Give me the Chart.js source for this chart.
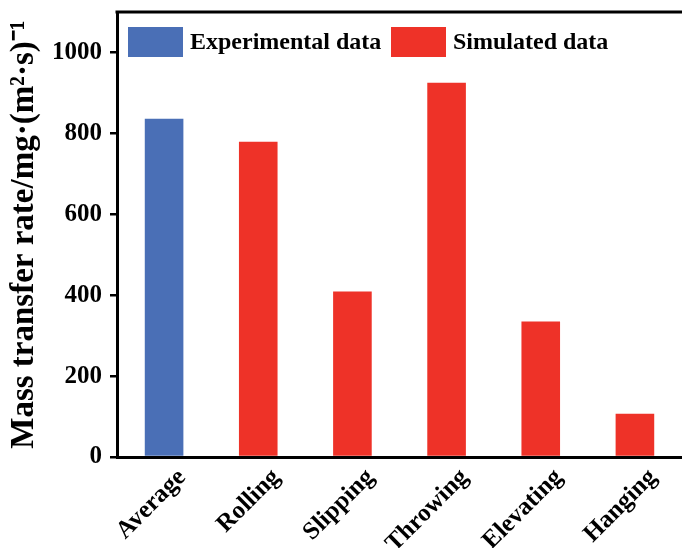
<!DOCTYPE html>
<html>
<head>
<meta charset="utf-8">
<script src="https://cdn.jsdelivr.net/npm/chart.js@4"></script>
<style>
  html, body { margin: 0; padding: 0; background: #fff; overflow: hidden; }
  #wrap { width: 682px; height: 548px; }
</style>
</head>
<body>
<div id="wrap"><canvas id="massChart" width="682" height="548"></canvas></div>
<script>
var categories = ['Average', 'Rolling', 'Slipping', 'Throwing', 'Elevating', 'Hanging'];
var experimentalValues = [836, null, null, null, null, null];
var simulatedValues = [null, 779, 409, 925, 335, 107];
var yTicks = [0, 200, 400, 600, 800, 1000];

var serif = "'Liberation Serif', 'Times New Roman', serif";
var blue = '#4A6FB6';
var red = '#EE3228';

// legend drawn inside the plot area, plus the top frame line
var frameAndLegend = {
    id: 'frameAndLegend',
    afterDraw: function (chart) {
        var ctx = chart.ctx;
        var area = chart.chartArea;
        ctx.save();
        ctx.strokeStyle = '#000';
        ctx.lineWidth = 3;
        ctx.beginPath();
        ctx.moveTo(area.left - 1.5, area.top);
        ctx.lineTo(chart.width, area.top);
        ctx.stroke();

        var items = [
            { text: chart.data.datasets[0].label, color: chart.data.datasets[0].backgroundColor, x: 128 },
            { text: chart.data.datasets[1].label, color: chart.data.datasets[1].backgroundColor, x: 391 }
        ];
        ctx.font = 'bold 24px ' + serif;
        ctx.textBaseline = 'middle';
        items.forEach(function (it) {
            ctx.fillStyle = it.color;
            ctx.fillRect(it.x, 27, 55, 30);
            ctx.fillStyle = '#000';
            ctx.fillText(it.text, it.x + 62, 43);
        });
        ctx.restore();
    }
};

var ctx = document.getElementById('massChart').getContext('2d');
var massChart = new Chart(ctx, {
    type: 'bar',
    data: {
        labels: categories,
        datasets: [{
            label: 'Experimental data',
            data: experimentalValues,
            backgroundColor: blue,
            grouped: false,
            categoryPercentage: 1,
            barPercentage: 0.41
        }, {
            label: 'Simulated data',
            data: simulatedValues,
            backgroundColor: red,
            grouped: false,
            categoryPercentage: 1,
            barPercentage: 0.41
        }]
    },
    options: {
        responsive: false,
        animation: false,
        layout: { padding: { top: 12, right: 0, left: 0, bottom: 0 } },
        plugins: {
            legend: { display: false },
            tooltip: { enabled: false }
        },
        scales: {
            x: {
                offset: true,
                grid: { display: false, drawTicks: false },
                border: { color: '#000', width: 3 },
                ticks: {
                    color: '#000',
                    font: { family: serif, size: 25, weight: 'bold' },
                    maxRotation: 45,
                    minRotation: 45,
                    labelOffset: 18,
                    padding: 6
                },
                afterFit: function (scale) {
                    scale.height = 91;
                    scale.paddingLeft = 0;
                    scale.paddingRight = 0;
                }
            },
            y: {
                min: 0,
                max: 1100,
                afterBuildTicks: function (axis) {
                    axis.ticks = yTicks.map(function (v) { return { value: v }; });
                },
                grid: {
                    drawOnChartArea: false,
                    drawTicks: true,
                    tickLength: 7,
                    color: '#000',
                    lineWidth: 2.5
                },
                border: { color: '#000', width: 3 },
                ticks: {
                    color: '#000',
                    font: { family: serif, size: 25, weight: 'bold' },
                    padding: 8,
                    callback: function (v) { return String(v); }
                },
                title: {
                    display: true,
                    text: 'Mass transfer rate/mg\u00b7(m\u00b2\u00b7s)\u207b\u00b9',
                    color: '#000',
                    font: { family: serif, size: 33, weight: 'bold' },
                    padding: { top: 5, bottom: 0 }
                },
                afterFit: function (scale) {
                    scale.width = 117;
                    scale.paddingTop = 0;
                    scale.paddingBottom = 0;
                }
            }
        }
    },
    plugins: [frameAndLegend]
});
</script>
</body>
</html>
